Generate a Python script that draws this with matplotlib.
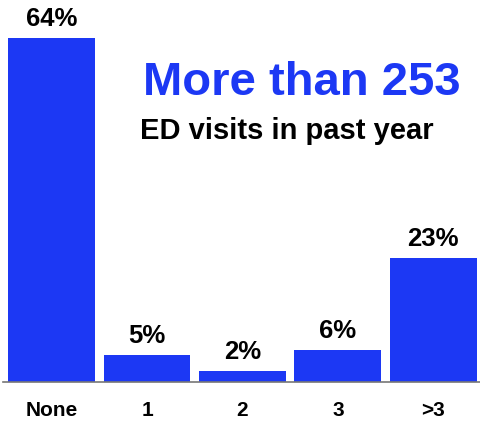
import matplotlib
matplotlib.use("Agg")
import matplotlib.pyplot as plt

categories = ["None", "1", "2", "3", ">3"]
percents = [64, 5, 2, 6, 23]

BLUE = "#1c38f4"

plt.rcParams["font.family"] = ["Liberation Sans", "DejaVu Sans"]
plt.rcParams["font.weight"] = "bold"

fig = plt.figure(figsize=(4.8, 4.23), dpi=100)
ax = fig.add_axes([3 / 480, 41 / 423, 477 / 480, 382 / 423])

x = range(len(categories))
bars = ax.bar(x, percents, width=0.91, color=BLUE, zorder=2)

for b, v in zip(bars, percents):
    ax.annotate(f"{v}%", (b.get_x() + b.get_width() / 2, v),
                xytext=(0, 5), textcoords="offset points",
                ha="center", va="bottom", fontsize=18.5, fontweight="bold")

ax.set_xlim(-0.51, 4.49)
ax.set_ylim(0, 71.1)
ax.set_xticks(list(x))
ax.set_xticklabels(categories, fontsize=15, fontweight="bold")
ax.tick_params(axis="x", length=0, pad=14)
ax.set_yticks([])
for side in ["top", "right", "left"]:
    ax.spines[side].set_visible(False)
ax.spines["bottom"].set_color("#777777")
ax.spines["bottom"].set_linewidth(1.2)

fig.text(143 / 480, 1 - 83 / 423, "More than 253", color=BLUE,
         fontsize=34, fontweight="bold", ha="left", va="center")
fig.text(140 / 480, 1 - 131 / 423, "ED visits in past year", color="black",
         fontsize=21, fontweight="bold", ha="left", va="center")

fig.savefig("out.png", dpi=100)
